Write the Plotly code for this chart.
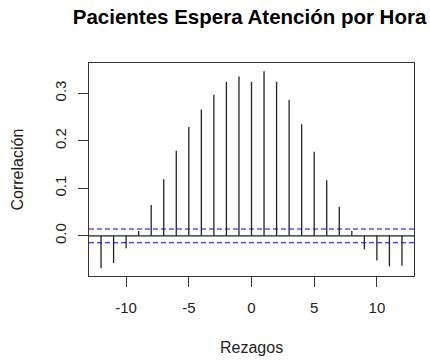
import plotly.graph_objects as go

lags = list(range(-12, 13))
ccf_values = [-0.068, -0.057, -0.026, 0.010, 0.065, 0.119, 0.179, 0.229, 0.266, 0.297,
              0.324, 0.335, 0.324, 0.346, 0.324, 0.286, 0.235, 0.177, 0.117, 0.061,
              0.010, -0.028, -0.052, -0.064, -0.063]
ci = 0.0145
x_ticks = [-10, -5, 0, 5, 10]
x_tick_labels = ["-10", "-5", "0", "5", "10"]
y_ticks = [0.0, 0.1, 0.2, 0.3]
y_tick_labels = ["0.0", "0.1", "0.2", "0.3"]

xs, ys = [], []
for l, v in zip(lags, ccf_values):
    xs += [l, l, None]
    ys += [0, v, None]

fig = go.Figure()
fig.add_trace(go.Scatter(x=xs, y=ys, mode="lines",
                         line=dict(color="#222222", width=1.3),
                         showlegend=False, hoverinfo="skip"))

fig.add_hline(y=0, line=dict(color="#222222", width=1.2))
for c in (ci, -ci):
    fig.add_hline(y=c, line=dict(color="#0000ff", width=1.2, dash="5px,3px"))

font = "Liberation Sans, Arial, sans-serif"
fig.update_layout(
    width=430, height=362,
    margin=dict(l=89, r=16, t=63, b=86),
    paper_bgcolor="white", plot_bgcolor="white",
    font=dict(family=font, size=15, color="#222222"),
    title=dict(text="<b>Pacientes Espera Atención por Hora</b>",
               font=dict(size=20.5, color="black"),
               x=0.494, xref="paper", xanchor="center",
               y=1 - 17/362, yref="container", yanchor="middle"),
    annotations=[
        dict(text="Rezagos", xref="paper", yref="paper", x=0.5, y=-0.338,
             xanchor="center", yanchor="middle", showarrow=False,
             font=dict(size=16, color="#222222")),
        dict(text="Correlación", xref="paper", yref="paper", x=-0.2185, y=0.5,
             xanchor="center", yanchor="middle", showarrow=False, textangle=-90,
             font=dict(size=16, color="#222222")),
    ],
)
fig.update_xaxes(range=[-12.96, 12.96], tickvals=x_ticks, ticktext=x_tick_labels,
                 ticks="outside", ticklen=10,
                 tickcolor="#333333", showgrid=False, zeroline=False, ticklabelstandoff=8,
                 showline=True, mirror=True, linecolor="#333333", linewidth=1)
fig.update_yaxes(range=[-0.0844, 0.3636], tickvals=y_ticks, ticktext=y_tick_labels,
                 tickangle=-90, ticks="outside", ticklen=10, tickcolor="#333333",
                 showgrid=False, zeroline=False, ticklabelstandoff=6,
                 showline=True, mirror=True, linecolor="#333333", linewidth=1)

fig.write_html("out.html")
